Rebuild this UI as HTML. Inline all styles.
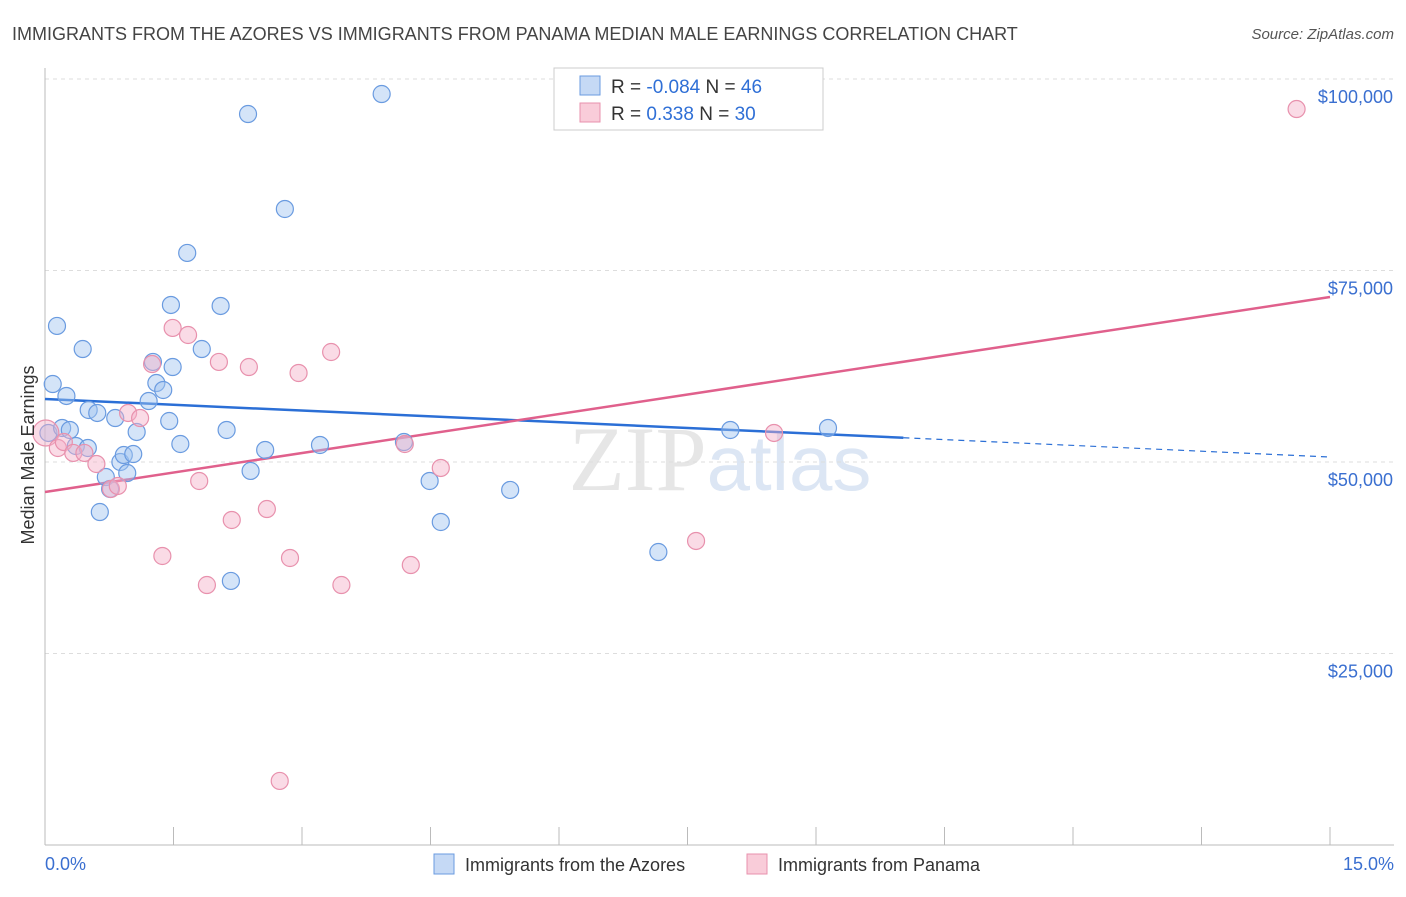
<!DOCTYPE html>
<html><head><meta charset="utf-8"><style>
body{margin:0;background:#fff;font-family:"Liberation Sans",sans-serif}
</style></head><body>
<svg id="chart" width="1406" height="892" xmlns="http://www.w3.org/2000/svg" font-family="Liberation Sans, sans-serif">
<text x="12" y="40" font-size="18" fill="#444">IMMIGRANTS FROM THE AZORES VS IMMIGRANTS FROM PANAMA MEDIAN MALE EARNINGS CORRELATION CHART</text>
<text x="1394" y="39" font-size="15" fill="#555" text-anchor="end" font-style="italic">Source: ZipAtlas.com</text>
<text x="720" y="490" font-size="92" text-anchor="middle" fill="#e6e6e6" font-family="Liberation Serif, serif">ZIP<tspan fill="#dce6f4" font-family="Liberation Sans, sans-serif" font-size="78">atlas</tspan></text>
<g id="grid"></g>
<g id="axes"></g>
<g id="lines"></g>
<g id="points"></g>
<text transform="translate(34,455) rotate(-90)" font-size="18" fill="#333" text-anchor="middle">Median Male Earnings</text>
<text x="45" y="870" font-size="18" fill="#3a6fd0">0.0%</text>
<text x="1394" y="870" font-size="18" fill="#3a6fd0" text-anchor="end">15.0%</text>
<g>
<rect x="554" y="68" width="269" height="62" fill="#fff" stroke="#ccc"/>
<rect x="580" y="76" width="20" height="19" fill="#c5d9f5" stroke="#6a9be0"/>
<rect x="580" y="103" width="20" height="19" fill="#f9ccd9" stroke="#e891ad"/>
<text x="611" y="93" font-size="19" fill="#333">R = <tspan fill="#2f6fd6">-0.084</tspan>   N = <tspan fill="#2f6fd6">46</tspan></text>
<text x="611" y="120" font-size="19" fill="#333">R =  <tspan fill="#2f6fd6"> 0.338</tspan>   N = <tspan fill="#2f6fd6">30</tspan></text>
</g>
<g>
<rect x="434" y="854" width="20" height="20" fill="#c5d9f5" stroke="#6a9be0"/>
<text x="465" y="871" font-size="18" fill="#333">Immigrants from the Azores</text>
<rect x="747" y="854" width="20" height="20" fill="#f9ccd9" stroke="#e891ad"/>
<text x="778" y="871" font-size="18" fill="#333">Immigrants from Panama</text>
</g>
</svg>
<script>
const yTicks=[25000,50000,75000,100000];
const yTickLabels=["$25,000","$50,000","$75,000","$100,000"];
const azoresX=[0.04,0.09,0.14,0.2,0.25,0.29,0.36,0.44,0.5,0.51,0.61,0.64,0.71,0.76,0.82,0.88,0.92,0.96,1.03,1.07,1.21,1.26,1.3,1.38,1.45,1.47,1.49,1.58,1.66,1.83,2.05,2.12,2.17,2.37,2.4,2.57,2.8,3.21,3.93,4.19,4.49,4.62,5.43,7.16,8.0,9.14];
const azoresY=[53790,60180,67760,54440,58620,54180,52090,64750,51830,56790,56400,43470,48040,46480,55740,50000,50910,48560,51040,53920,57960,63060,60310,59400,55350,70500,62400,52350,77290,64750,70370,54180,34470,95430,48830,51570,83030,52220,98040,52610,47520,42170,46350,38250,54180,54440];
const panamaX=[0.01,0.15,0.22,0.33,0.46,0.6,0.77,0.85,0.97,1.11,1.25,1.37,1.49,1.67,1.8,1.89,2.03,2.18,2.38,2.59,2.74,2.86,2.96,3.34,3.46,4.2,4.27,4.62,7.6,8.51,14.61];
const panamaY=[53790,51830,52610,51180,51180,49740,46480,46870,56400,55740,62790,37730,67500,66580,47520,33940,63060,42430,62400,43860,8360,37470,61620,64360,33940,52350,36550,49220,39690,53790,96080];
const azoresFit=[58230,50650]; // at x=0 and x=15
const azoresSolidEnd=10.02;
const panamaFit=[46080,71540];

const NS="http://www.w3.org/2000/svg";
const X0=45,X1=1330,Y0=845;
const xs=v=>X0+(v/15)*(X1-X0);
const ys=v=>Y0-v/25000*191.5;
function mk(tag,attrs,parent){const e=document.createElementNS(NS,tag);for(const k in attrs)e.setAttribute(k,attrs[k]);parent.appendChild(e);return e;}
const grid=document.getElementById('grid'),axes=document.getElementById('axes'),lines=document.getElementById('lines'),pts=document.getElementById('points');
yTicks.forEach((t,i)=>{
 const l=mk('line',{x1:X0,x2:1394,y1:ys(t),y2:ys(t),stroke:'#ddd','stroke-dasharray':'4,4'},grid);
 
 
 const tx=mk('text',{x:1393,y:ys(t)+24,'font-size':18,fill:'#3a6fd0','text-anchor':'end'},grid);
 tx.textContent=yTickLabels[i];
 
 
});
const ax=mk('line',{x1:X0,x2:1394,y1:Y0,y2:Y0,stroke:'#bbb'},axes);


const ay=mk('line',{x1:X0,x2:X0,y1:68,y2:Y0,stroke:'#bbb'},axes);


for(let i=0;i<=10;i++){
 const v=i*1.5;
 const tk=mk('line',{x1:xs(v),x2:xs(v),y1:Y0,y2:Y0+(i==0?0:-18),stroke:'#bbb'},axes);
 
 
}
function fy(f,x){return f[0]+(f[1]-f[0])*x/15;}
const b1=mk('line',{x1:xs(0),y1:ys(fy(azoresFit,0)),x2:xs(azoresSolidEnd),y2:ys(fy(azoresFit,azoresSolidEnd)),stroke:'#2b6fd6','stroke-width':2.5},lines);


const b2=mk('line',{x1:xs(azoresSolidEnd),y1:ys(fy(azoresFit,azoresSolidEnd)),x2:xs(15),y2:ys(fy(azoresFit,15)),stroke:'#2b6fd6','stroke-width':1.2,'stroke-dasharray':'6,5'},lines);


const p1=mk('line',{x1:xs(0),y1:ys(fy(panamaFit,0)),x2:xs(15),y2:ys(fy(panamaFit,15)),stroke:'#e0608c','stroke-width':2.5},lines);


azoresX.forEach((x,i)=>{
 const c=mk('circle',{cx:xs(x),cy:ys(azoresY[i]),r:8.5,fill:'rgba(160,195,240,0.45)',stroke:'#6a9be0','stroke-width':1.2},pts);
 
 
});
panamaX.forEach((x,i)=>{
 const c=mk('circle',{cx:xs(x),cy:ys(panamaY[i]),r:i==0?13:8.5,fill:'rgba(245,175,200,0.45)',stroke:'#e891ad','stroke-width':1.2},pts);
 
 
});
</script>
</body></html>
